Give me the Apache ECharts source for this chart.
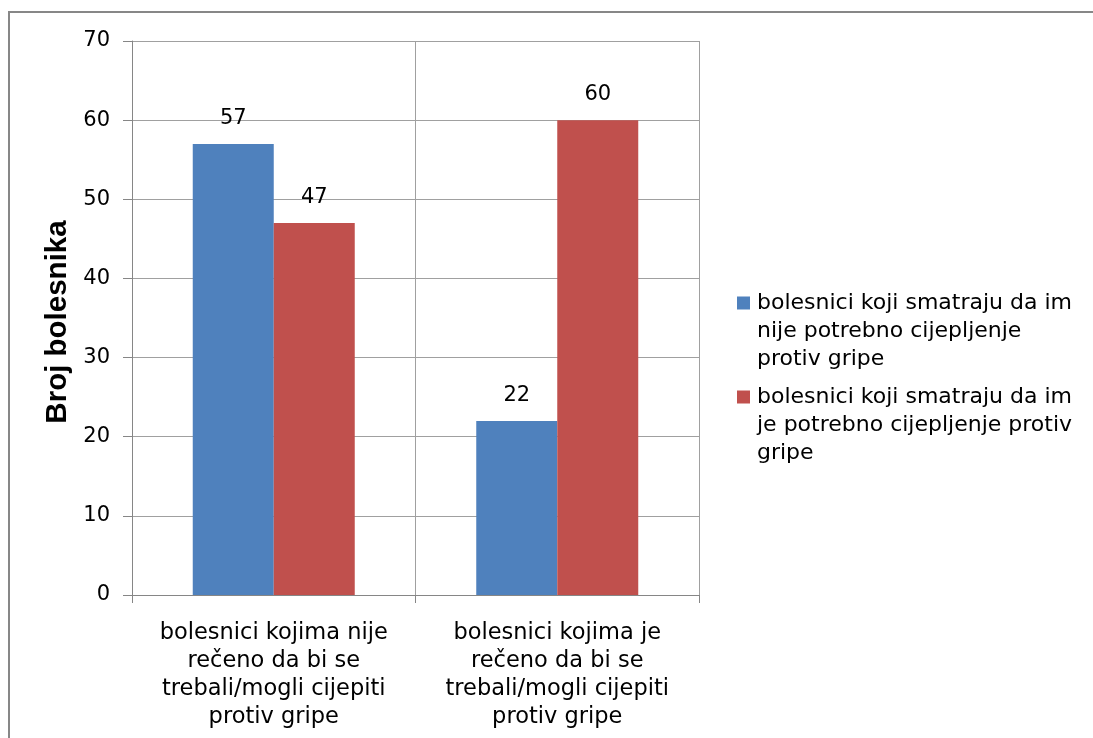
<!DOCTYPE html>
<html>
<head>
<meta charset="utf-8">
<script src="https://cdn.jsdelivr.net/npm/echarts@6/dist/echarts.min.js"></script>
<style>
html,body{margin:0;padding:0;background:#fff;}
#chart{width:1093px;height:738px;}
</style>
</head>
<body>
<div id="chart"></div>
<script>
const categories = [
  'bolesnici kojima nije\nrečeno da bi se\ntrebali/mogli cijepiti\nprotiv gripe',
  'bolesnici kojima je\nrečeno da bi se\ntrebali/mogli cijepiti\nprotiv gripe'
];
const seriesNames = [
  'bolesnici koji smatraju da im nije potrebno cijepljenje protiv gripe',
  'bolesnici koji smatraju da im je potrebno cijepljenje protiv gripe'
];
const legendLines = [
  ['bolesnici koji smatraju da im', 'nije potrebno cijepljenje', 'protiv gripe'],
  ['bolesnici koji smatraju da im', 'je potrebno cijepljenje protiv', 'gripe']
];
const valuesNotNeeded = [57, 22];
const valuesNeeded = [47, 60];
const yTicks = { min: 0, max: 70, interval: 10 };
const yTitle = 'Broj bolesnika';
const colors = ['#4F81BD', '#C0504D'];

const FONT = 'DejaVu Sans';
const chart = echarts.init(document.getElementById('chart'), null, { renderer: 'canvas' });

const option = {
  animation: false,
  backgroundColor: '#fff',
  graphic: [{
    type: 'rect',
    shape: { x: 9, y: 12, width: 1200, height: 900 },
    style: { fill: 'none', stroke: '#878787', lineWidth: 2 },
    silent: true
  }],
  grid: { left: 132, right: 394, top: 41, bottom: 143, containLabel: false },
  legend: {
    orient: 'vertical',
    left: 727,
    top: 287,
    itemWidth: 0,
    itemHeight: 0,
    itemGap: 16,
    selectedMode: false,
    data: seriesNames,
    formatter: function (name) {
      const i = seriesNames.indexOf(name);
      const sq = i === 0 ? 'sqB' : 'sqR';
      const lines = legendLines[i];
      return lines.map(function (l, k) {
        return (k === 0 ? '{' + sq + '| }{gap| }' : '{ind| }') + '{t|' + l + '}';
      }).join('\n');
    },
    textStyle: {
      fontFamily: FONT,
      fontSize: 22,
      color: '#000',
      rich: {
        sqB: { width: 13, height: 13, backgroundColor: colors[0], fontSize: 1, lineHeight: 28 },
        sqR: { width: 13, height: 13, backgroundColor: colors[1], fontSize: 1, lineHeight: 28 },
        gap: { width: 7, fontSize: 1, lineHeight: 28 },
        ind: { width: 20, fontSize: 1, lineHeight: 28 },
        t: { fontFamily: FONT, fontSize: 22, lineHeight: 28, color: '#000' }
      }
    }
  },
  xAxis: {
    type: 'category',
    data: categories,
    boundaryGap: true,
    axisLine: { show: true, lineStyle: { color: '#868686', width: 1 } },
    axisTick: { show: true, length: 8, alignWithLabel: false, lineStyle: { color: '#868686' } },
    splitLine: { show: true, lineStyle: { color: '#A0A0A0', width: 1 } },
    axisLabel: {
      interval: 0,
      margin: 24,
      fontFamily: FONT,
      fontSize: 22.5,
      lineHeight: 28,
      color: '#000',
      align: 'center'
    }
  },
  yAxis: {
    type: 'value',
    min: yTicks.min,
    max: yTicks.max,
    interval: yTicks.interval,
    name: yTitle,
    nameLocation: 'middle',
    nameGap: 56,
    nameRotate: 90,
    nameTextStyle: {
      fontFamily: 'Liberation Sans',
      fontWeight: 'bold',
      fontSize: 29.5,
      color: '#000',
      padding: [0, 8, 0, 0]
    },
    axisLine: { show: true, lineStyle: { color: '#868686', width: 1 } },
    axisTick: { show: true, length: 9, lineStyle: { color: '#868686' } },
    splitLine: { show: true, lineStyle: { color: '#A0A0A0', width: 1 } },
    axisLabel: {
      margin: 22,
      fontFamily: FONT,
      fontSize: 21,
      color: '#000'
    }
  },
  series: [
    {
      name: seriesNames[0],
      type: 'bar',
      data: valuesNotNeeded,
      barWidth: 81,
      barGap: '0%',
      itemStyle: { color: colors[0] },
      label: { show: true, position: 'top', distance: 15, fontFamily: FONT, fontSize: 21, color: '#000' }
    },
    {
      name: seriesNames[1],
      type: 'bar',
      data: valuesNeeded,
      barWidth: 81,
      barGap: '0%',
      itemStyle: { color: colors[1] },
      label: { show: true, position: 'top', distance: 15, fontFamily: FONT, fontSize: 21, color: '#000' }
    }
  ]
};
chart.setOption(option);
</script>
</body>
</html>
